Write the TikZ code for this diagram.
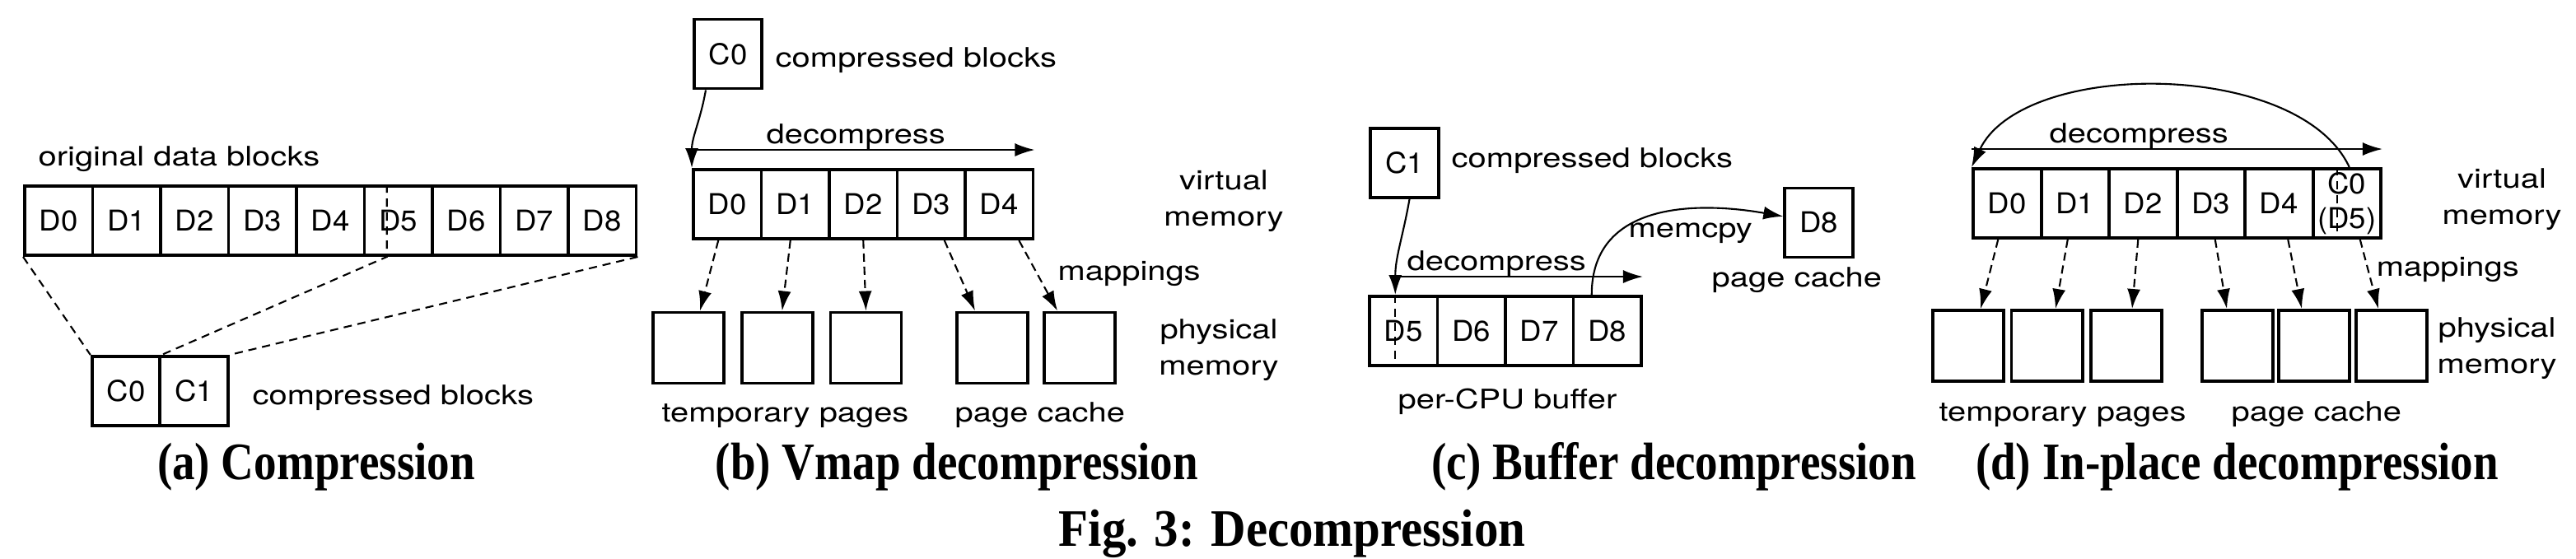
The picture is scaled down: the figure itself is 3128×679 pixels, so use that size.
\documentclass[tikz,border=0pt]{standalone}
\usepackage{fontspec}
\usepackage{tikz}
\usetikzlibrary{arrows.meta}
\newfontfamily\lblfont[FakeStretch = 1.22]{TeX Gyre Heros}
\newfontfamily\blkfont[FakeStretch = 1.05]{TeX Gyre Heros}
\newfontfamily\subcapfont[FakeStretch = 0.86]{Liberation Serif}
\newfontfamily\figcapfont[FakeStretch = 0.92]{Liberation Serif}
\tikzset{
blk/.style = {draw, line width = 1.1pt, minimum width = 8.25mm, minimum height = 8.4mm, inner sep = 0pt, align = center, font = \blkfont\fontsize{9.9pt}{12pt}\selectfont},
pg/.style = {draw, line width = 1.1pt, minimum width = 8.6mm, minimum height = 8.6mm, inner sep = 0pt},
lbl/.style = {anchor = base west, inner sep = 0pt, font = \lblfont\fontsize{9.3pt}{12.5pt}\selectfont},
mem/.style = {align = center, inner sep = 0pt, font = \lblfont\fontsize{9.3pt}{12.5pt}\selectfont},
subcap/.style = {anchor = base, inner sep = 0pt, font = \subcapfont\bfseries\fontsize{18.2pt}{20pt}\selectfont},
figcap/.style = {anchor = base, inner sep = 0pt, font = \figcapfont\bfseries\fontsize{18.2pt}{20pt}\selectfont},
flow/.style = {->, line width = 0.6pt},
map/.style = {->, line width = 0.6pt, dash pattern = on 1mm off 0.6mm},
cut/.style = {line width = 0.6pt, dash pattern = on 1mm off 0.7mm}
}
\begin{document}
\begin{tikzpicture}[x = 0.01cm, y = 0.01cm, >={Latex[length = 2.4mm, width = 1.6mm]}]
\useasboundingbox (0,0) rectangle (3128,-679);
\node[lbl] (orig) at (46,-202) {original data blocks};
\foreach \i in {0,...,8}
{
\node[blk] (a\i) at (71.25+82.5*\i,-268) {D\i};
}
\node[blk] (ac0) at (153,-475) {C0};
\node[blk] (ac1) at (235.5,-475) {C1};
\node[lbl] (acb) at (306,-491) {compressed blocks};
\coordinate (a5cut) at ([xshift = -1.4mm]a5.south);
\draw[cut] (a5cut |- a5.north) -- (a5cut) -- (ac0.north east);
\draw[cut] (a0.south west) -- (ac0.north west);
\draw[cut] (a8.south east) -- (ac1.north east);
\node[subcap] (capa) at (384,-582) {(a) Compression};
\node[blk] (bc0) at (884,-65.5) {C0};
\node[lbl] (bcb) at (941,-82) {compressed blocks};
\foreach \i in {0,...,4}
{
\node[blk] (b\i) at (883.25+82.5*\i,-248) {D\i};
}
\draw[flow] ([xshift = -2.7mm]bc0.south) to[out = -100, in = 90] (b0.north west);
\draw[flow] ([yshift = 2.2mm]b0.north west) -- ([yshift = 2.2mm]b4.north east);
\node[lbl] (bdec) at (930,-175) {decompress};
\node[mem] (bvm) at (1486,-244) {virtual\\memory};
\foreach \i/\x in {0/836, 1/943.75, 2/1051.5, 3/1205, 4/1311}
{
\node[pg] (bp\i) at (\x,-422.5) {};
}
\foreach \i/\s/\e in {0/-1.1mm/1.4mm, 1/-0.6mm/0.6mm, 2/0mm/0mm, 3/1.6mm/-2.1mm, 4/2.4mm/-2.7mm}
{
\draw[map] ([xshift = \s]b\i.south) -- ([xshift = \e]bp\i.north);
}
\node[lbl] (bmap) at (1284,-340) {mappings};
\node[mem] (bpm) at (1480,-425) {physical\\memory};
\node[lbl] (btmp) at (803,-512) {temporary pages};
\node[lbl] (bpc) at (1159,-512) {page cache};
\node[subcap] (capb) at (1162,-582) {(b) Vmap decompression};
\node[blk] (cc1) at (1705.5,-198) {C1};
\node[lbl] (ccb) at (1762,-204) {compressed blocks};
\foreach \i in {5,...,8}
{
\node[blk] (c\i) at (1291.75+82.5*\i,-402) {D\i};
}
\coordinate (c5cut) at ([xshift = -1mm]c5.north);
\draw[cut] (c5cut) -- (c5cut |- c5.south);
\draw[flow] ([xshift = 0.6mm]cc1.south) to[out = -100, in = 90] (c5cut);
\draw[flow] ([yshift = 2.2mm]c5cut) -- ([yshift = 2.2mm]c8.north east);
\node[lbl] (cdec) at (1708,-328) {decompress};
\node[blk] (cpc8) at (2208.5,-270.5) {D8};
\draw[flow] ([xshift = -1.9mm]c8.north) to[out = 90, in = 170, out distance = 1.2cm, in distance = 0.9cm] (cpc8.170);
\node[lbl] (cmem) at (1977,-288) {memcpy};
\node[lbl] (cpcl) at (2078,-348) {page cache};
\node[lbl] (cbuf) at (1697,-496) {per-CPU buffer};
\node[subcap] (capc) at (2032.5,-582) {(c) Buffer decompression};
\foreach \i in {0,...,4}
{
\node[blk] (d\i) at (2437.25+82.5*\i,-247) {D\i};
}
\node[blk] (d5) at (2849.75,-247) {C0\\(D5)};
\coordinate (d5cut) at ([xshift = -1.2mm]d5.north);
\draw[cut] (d5cut) -- (d5cut |- d5.south);
\draw[flow] ([xshift = 0.3mm]d5.north) to[out = 115, in = 65, distance = 1.45cm] (d0.north west);
\draw[flow] ([yshift = 2.2mm]d0.north west) -- ([yshift = 2.2mm]d5.north east);
\node[lbl] (ddec) at (2488,-173) {decompress};
\node[mem] (dvm) at (3038,-242) {virtual\\memory};
\foreach \i/\x in {0/2390, 1/2485.5, 2/2582, 3/2717, 4/2810, 5/2904}
{
\node[pg] (dp\i) at (\x,-420) {};
}
\foreach \i/\s/\e in {0/-1.1mm/1.5mm, 1/-0.9mm/1.05mm, 2/-0.6mm/0.7mm, 3/0.5mm/-1.3mm, 4/1.1mm/-1.5mm, 5/1.6mm/-1.6mm}
{
\draw[map] ([xshift = \s]d\i.south) -- ([xshift = \e]dp\i.north);
}
\node[lbl] (dmap) at (2885,-335) {mappings};
\node[mem] (dpm) at (3032,-423) {physical\\memory};
\node[lbl] (dtmp) at (2354,-511) {temporary pages};
\node[lbl] (dpc) at (2709,-511) {page cache};
\node[subcap] (capd) at (2716.5,-582) {(d) In-place decompression};
\node[figcap] (fig) at (1569,-663) {Fig. 3: Decompression};
\end{tikzpicture}
\end{document}
